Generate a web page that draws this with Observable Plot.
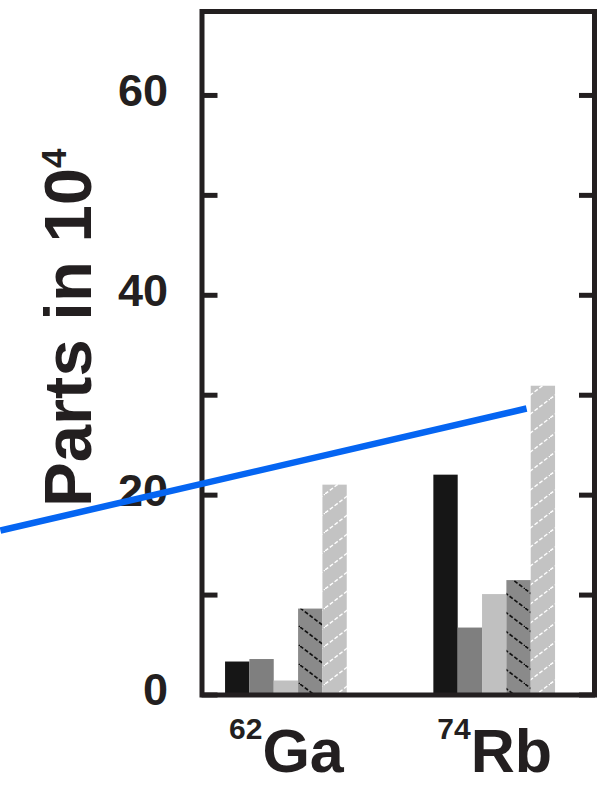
<!DOCTYPE html>
<html>
<head>
<meta charset="utf-8">
<script src="https://cdn.jsdelivr.net/npm/d3@7"></script>
<script src="https://cdn.jsdelivr.net/npm/@observablehq/plot@0.6"></script>
<style>
  body { margin: 0; background: #fff; }
</style>
</head>
<body>
<div id="chart"></div>
<script>
// ---- data ----
const isotopes = ["Ga", "Rb"];
const massNumbers = ["62", "74"];
const seriesNames = ["Series A", "Series B", "Series C", "Series D", "Series E"];
const gaValues = [3.3, 3.55, 1.4, 8.6, 21.0];
const rbValues = [22.0, 6.7, 10.05, 11.45, 30.9];
const yTicks = [0, 10, 20, 30, 40, 50, 60];
const yTickLabels = [0, 20, 40, 60];
const yLabel = "Parts in 10";
const yLabelExponent = "4";
// overlay line (x in category-index units, y in parts in 10^4)
const lineX = [-1.373, 1.153];
const lineY = [16.46, 28.67];

// ---- styling / layout config ----
const ink = "#231f20";
const seriesFills = ["#161616", "#7f7f7f", "#c0c0c0", "url(#hatchDark)", "url(#hatchLight)"];
const barW = 0.11685;
const font = "'Liberation Sans', Arial, Helvetica, sans-serif";

const valuesByIsotope = [gaValues, rbValues];
const bars = isotopes.flatMap((iso, i) =>
  seriesNames.map((s, j) => ({iso, i, j, series: s, value: valuesByIsotope[i][j]}))
);
const linePts = lineX.map((x, k) => ({x, y: lineY[k]}));

const chart = Plot.plot({
  width: 602,
  height: 786,
  marginLeft: 201.5,
  marginRight: 8,
  marginTop: 11,
  marginBottom: 91.5,
  style: {fontFamily: font, background: "white", overflow: "visible", color: ink},
  x: {type: "linear", domain: [-0.4052, 1.4791], axis: null},
  y: {domain: [0, 68.4]},
  color: {type: "ordinal", domain: seriesNames, range: seriesFills},
  marks: [
    Plot.rect(bars, {
      x1: d => d.i + (d.j - 2.5) * barW,
      x2: d => d.i + (d.j - 1.5) * barW,
      y1: 0,
      y2: "value",
      fill: "series"
    }),
    Plot.frame({stroke: ink, strokeWidth: 5}),
    Plot.axisY(yTicks, {anchor: "left", tickSize: 16, dx: 16, fill: "none", label: null, stroke: ink, strokeWidth: 5}),
    Plot.axisY(yTicks, {anchor: "right", tickSize: 16, dx: -16, fill: "none", label: null, stroke: ink, strokeWidth: 5}),
    Plot.axisY(yTickLabels, {anchor: "left", tickSize: 0, tickPadding: 34, dy: -4, label: null,
      fontSize: 45, fontWeight: "bold", fill: ink}),
    Plot.text(isotopes, {
      x: (d, i) => i, text: d => d, frameAnchor: "bottom", lineAnchor: "bottom",
      dy: 77, fontSize: 61, fontWeight: "bold", fill: ink, textAnchor: "middle",
      className: "cat-label"
    }),
    Plot.text([yLabel], {
      text: d => d, frameAnchor: "left", rotate: -90, lineAnchor: "bottom", textAnchor: "middle",
      dx: -111.5, dy: -25.5, fontSize: 67, fontWeight: "bold", fill: ink, className: "y-label"
    }),
    Plot.line(linePts, {x: "x", y: "y", stroke: "#0565f2", strokeWidth: 6.5, strokeLinecap: "butt"})
  ]
});

document.getElementById("chart").appendChild(chart);

// ---- hatch patterns ----
const svg = d3.select(chart);
const defs = svg.insert("defs", ":first-child");
const pw = 25, ph = 19;
const pd = defs.append("pattern").attr("id", "hatchDark").attr("patternUnits", "userSpaceOnUse")
  .attr("width", pw).attr("height", ph);
pd.append("rect").attr("width", pw).attr("height", ph).attr("fill", "#8a8a8a");
for (const o of [-1, 0, 1]) {
  pd.append("line").attr("x1", o * pw).attr("y1", o * ph).attr("x2", (o + 1) * pw).attr("y2", (o + 1) * ph)
    .attr("stroke", "#111").attr("stroke-width", 1.7).attr("stroke-dasharray", "4 2");
}
const pl = defs.append("pattern").attr("id", "hatchLight").attr("patternUnits", "userSpaceOnUse")
  .attr("width", pw).attr("height", ph);
pl.append("rect").attr("width", pw).attr("height", ph).attr("fill", "#c3c3c3");
for (const o of [-1, 0, 1]) {
  pl.append("line").attr("x1", o * pw).attr("y1", ph - o * ph).attr("x2", (o + 1) * pw).attr("y2", -o * ph)
    .attr("stroke", "#fff").attr("stroke-width", 1.4).attr("stroke-dasharray", "4 2");
}

// ---- superscripts ----
svg.selectAll("g.cat-label text").each(function(d, k) {
  const t = d3.select(this);
  const sym = this.textContent;
  t.text(null);
  t.append("tspan").attr("font-size", 30).attr("dy", -33).text(massNumbers[k]);
  t.append("tspan").attr("dy", 33).text(sym);
});
svg.selectAll("g.y-label text").each(function() {
  const t = d3.select(this);
  t.append("tspan").attr("font-size", 35).attr("dy", -25).text(yLabelExponent);
});
</script>
</body>
</html>
